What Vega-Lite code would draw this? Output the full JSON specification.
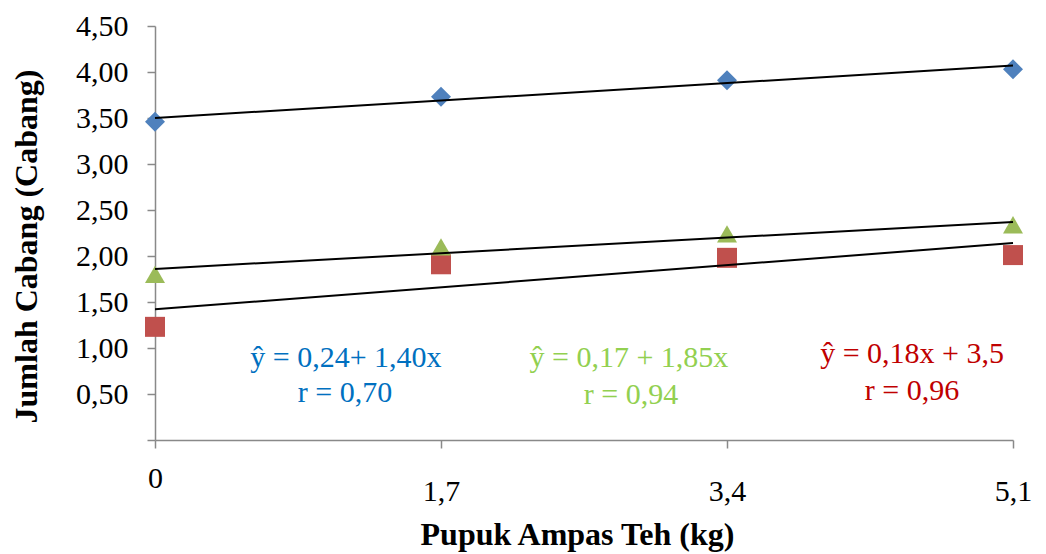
{
  "$schema": "https://vega.github.io/schema/vega-lite/v6.json",
  "width": 858,
  "height": 414,
  "autosize": {"type": "none"},
  "padding": {"left": 155, "top": 26, "right": 33, "bottom": 114},
  "background": "white",
  "config": {"view": {"stroke": null}, "font": "Liberation Serif"},
  "datasets": {
    "points": [
      {"series": "Seri 1", "x": 0, "y": 3.46},
      {"series": "Seri 1", "x": 1.7, "y": 3.73},
      {"series": "Seri 1", "x": 3.4, "y": 3.91},
      {"series": "Seri 1", "x": 5.1, "y": 4.03},
      {"series": "Seri 2", "x": 0, "y": 1.23},
      {"series": "Seri 2", "x": 1.7, "y": 1.91},
      {"series": "Seri 2", "x": 3.4, "y": 1.98},
      {"series": "Seri 2", "x": 5.1, "y": 2.01},
      {"series": "Seri 3", "x": 0, "y": 1.80},
      {"series": "Seri 3", "x": 1.7, "y": 2.10},
      {"series": "Seri 3", "x": 3.4, "y": 2.24},
      {"series": "Seri 3", "x": 5.1, "y": 2.34}
    ],
    "trend": [
      {"series": "Seri 1", "x": 0, "y": 3.50},
      {"series": "Seri 1", "x": 5.1, "y": 4.07},
      {"series": "Seri 2", "x": 0, "y": 1.42},
      {"series": "Seri 2", "x": 5.1, "y": 2.14},
      {"series": "Seri 3", "x": 0, "y": 1.86},
      {"series": "Seri 3", "x": 5.1, "y": 2.37}
    ],
    "notes": [
      {"series": "Seri 1", "x": 1.135, "y": 0.793, "label": "ŷ = 0,24+ 1,40x"},
      {"series": "Seri 1", "x": 1.129, "y": 0.413, "label": "r = 0,70"},
      {"series": "Seri 3", "x": 2.817, "y": 0.793, "label": "ŷ = 0,17 + 1,85x"},
      {"series": "Seri 3", "x": 2.829, "y": 0.391, "label": "r = 0,94"},
      {"series": "Seri 2", "x": 4.50, "y": 0.837, "label": "ŷ = 0,18x + 3,5"},
      {"series": "Seri 2", "x": 4.50, "y": 0.435, "label": "r = 0,96"}
    ]
  },
  "layer": [
    {
      "data": {"name": "points"},
      "mark": {"type": "point", "filled": true, "size": 400, "opacity": 1},
      "encoding": {
        "x": {
          "field": "x", "type": "quantitative",
          "scale": {"domain": [0, 5.1], "nice": false, "zero": false},
          "axis": {
            "values": [0, 1.7, 3.4, 5.1],
            "labelExpr": "datum.value == 0 ? '0' : ['', replace(format(datum.value, '.1f'), '.', ',')]",
            "grid": false,
            "domainColor": "#898989",
            "domainWidth": 1.5,
            "tickColor": "#898989",
            "tickWidth": 1.5,
            "tickSize": 8,
            "labelFontSize": 30,
            "labelColor": "black",
            "labelPadding": 15,
            "labelBaseline": "top",
            "labelLineHeight": 13,
            "labelFlush": false,
            "labelOverlap": false,
            "title": "Pupuk Ampas Teh (kg)",
            "titleFontSize": 32,
            "titleFontWeight": "bold",
            "titleColor": "black",
            "titleX": 422,
            "titleY": 104,
            "titleBaseline": "alphabetic",
            "titleAlign": "center"
          }
        },
        "y": {
          "field": "y", "type": "quantitative",
          "scale": {"domain": [0, 4.5], "nice": false, "zero": true},
          "axis": {
            "values": [0, 0.5, 1, 1.5, 2, 2.5, 3, 3.5, 4, 4.5],
            "labelExpr": "datum.value == 0 ? '' : replace(format(datum.value, '.2f'), '.', ',')",
            "grid": false,
            "domainColor": "#898989",
            "domainWidth": 1.5,
            "tickColor": "#898989",
            "tickWidth": 1.5,
            "tickSize": 8,
            "labelFontSize": 30,
            "labelColor": "black",
            "labelPadding": 19,
            "labelBaseline": "middle",
            "labelFlush": false,
            "labelOverlap": false,
            "title": "Jumlah Cabang (Cabang)",
            "titleFontSize": 32,
            "titleFontWeight": "bold",
            "titleColor": "black",
            "titleAngle": -90,
            "titleX": -119,
            "titleY": 220,
            "titleBaseline": "alphabetic",
            "titleAlign": "center"
          }
        },
        "shape": {
          "field": "series", "type": "nominal",
          "scale": {"domain": ["Seri 1", "Seri 2", "Seri 3"], "range": ["diamond", "square", "triangle-up"]},
          "legend": null
        },
        "color": {
          "field": "series", "type": "nominal",
          "scale": {"domain": ["Seri 1", "Seri 2", "Seri 3"], "range": ["#4F81BD", "#C0504D", "#9BBB59"]},
          "legend": null
        }
      }
    },
    {
      "data": {"name": "trend"},
      "mark": {"type": "line", "color": "black", "strokeWidth": 2},
      "encoding": {
        "x": {"field": "x", "type": "quantitative"},
        "y": {"field": "y", "type": "quantitative"},
        "detail": {"field": "series", "type": "nominal"}
      }
    },
    {
      "data": {"name": "notes"},
      "mark": {"type": "text", "fontSize": 30, "align": "center", "baseline": "alphabetic"},
      "encoding": {
        "x": {"field": "x", "type": "quantitative"},
        "y": {"field": "y", "type": "quantitative"},
        "text": {"field": "label"},
        "color": {
          "field": "series", "type": "nominal",
          "scale": {"domain": ["Seri 1", "Seri 2", "Seri 3"], "range": ["#0070C0", "#C00000", "#92D050"]},
          "legend": null
        }
      }
    }
  ],
  "resolve": {"scale": {"color": "independent"}}
}
